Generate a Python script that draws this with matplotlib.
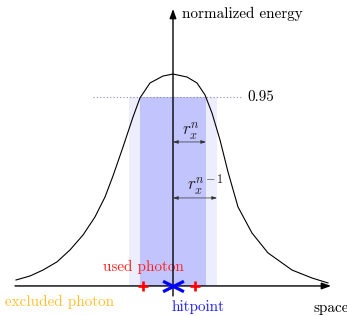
import matplotlib.pyplot as plt
from matplotlib.path import Path

plt.rcParams['mathtext.fontset'] = 'cm'

# energy profile (space offset, normalized energy)
curve_x = [-157, -143, -130, -116, -103, -90, -78, -68, -60, -50, -40, -33, -23, -10, 0,
           14, 24, 32, 39, 47, 55, 65, 79, 95, 119, 139, 155]
curve_y = [0.030, 0.050, 0.080, 0.121, 0.181, 0.256, 0.347, 0.447, 0.553, 0.698, 0.849,
           0.945, 1.020, 1.055, 1.065, 1.050, 1.020, 0.960, 0.869, 0.734, 0.573, 0.397,
           0.266, 0.166, 0.080, 0.040, 0.015]
threshold = 0.95
r_n = 33
r_n1 = 44
used_photons = [-30, 22]
hitpoint = 0


def ey(py):
    # pixel row -> energy units
    return (286 - py) / 199


fig = plt.figure(figsize=(3.47, 3.16), dpi=100)
ax = fig.add_axes([0, 0, 1, 1])
ax.axis('off')
ax.set_xlim(-173, 174)
ax.set_ylim(-0.151, 1.437)

ax.bar(0, threshold, width=2 * r_n1, color='#eceefd', zorder=1)
ax.bar(0, threshold, width=2 * r_n, color='#c2c4fd', zorder=1)

ax.plot([-80, 69], [threshold, threshold], ls=(0, (1, 2)), color='#8a8aa8', lw=0.8, zorder=2)
ax.text(74, threshold, '0.95', ha='left', va='center', fontsize=10.9, family='cmr10')

ax.plot(curve_x, curve_y, color='black', lw=0.8, zorder=3)

arr = dict(arrowstyle='-|>,head_length=0.55,head_width=0.2', lw=1, color='black',
           shrinkA=0, shrinkB=0)
ax.annotate('', xy=(158, 0), xytext=(-158, 0), arrowprops=arr, zorder=4)
ax.annotate('', xy=(0, ey(9)), xytext=(0, ey(296)), arrowprops=arr, zorder=4)

small = dict(arrowstyle='<|-|>,head_length=0.3,head_width=0.1', lw=0.5, color='#303030',
             shrinkA=0, shrinkB=0)
ax.annotate('', xy=(r_n, ey(142)), xytext=(0, ey(142)), arrowprops=small, zorder=4)
ax.annotate('', xy=(r_n1, ey(198)), xytext=(0, ey(198)), arrowprops=small, zorder=4)
ax.text(9, ey(135), r'$r_x^n$', ha='left', va='baseline', fontsize=12.5, color='#202020')
ax.text(14, ey(190), r'$r_x^{n-1}$', ha='left', va='baseline', fontsize=12.5, color='#202020')

ax.plot(used_photons, [0, 0], ls='none', marker='+', color='red', ms=7.5, mew=1.9, zorder=5)
xmark = Path([(-1, -0.5), (1, 0.5), (-1, 0.5), (1, -0.5)],
             [Path.MOVETO, Path.LINETO, Path.MOVETO, Path.LINETO])
ax.plot([hitpoint], [0], ls='none', marker=xmark, color='blue', ms=15, mew=2.3, zorder=5)

ax.text(9, ey(18), 'normalized energy', ha='left', va='baseline', fontsize=10.9, family='cmr10')
ax.text(-30, ey(271), 'used photon', ha='center', va='baseline', fontsize=10.9,
        family='cmr10', color='#ff2020')
ax.text(-168, ey(306), 'excluded photon', ha='left', va='baseline', fontsize=10.9,
        family='cmr10', color='#ffc030')
ax.text(-1, ey(311), 'hitpoint', ha='left', va='baseline', fontsize=10.9,
        family='cmr10', color='#2020ff')
ax.text(140, ey(312), 'space', ha='left', va='baseline', fontsize=10.9, family='cmr10')

fig.savefig('out.png', dpi=100)
